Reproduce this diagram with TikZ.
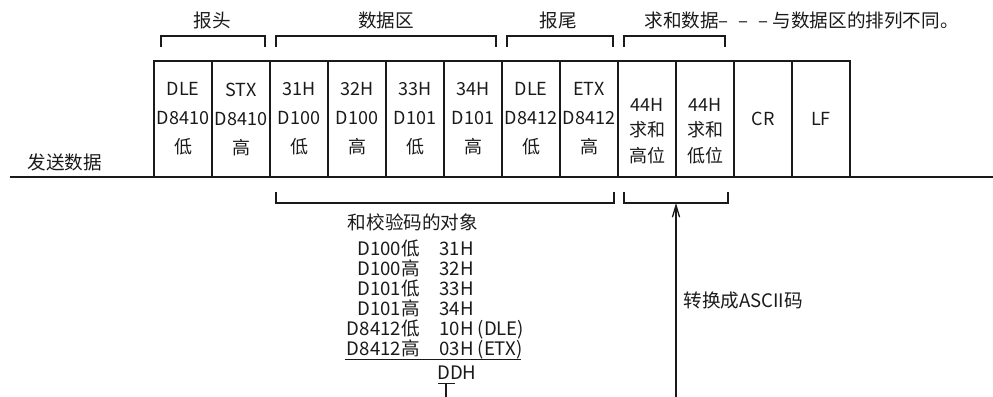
\documentclass[tikz,border=0pt]{standalone}
\usepackage{fontspec}
\setmainfont{Noto Sans CJK SC}
\usetikzlibrary{arrows.meta,positioning,calc}
\definecolor{ink}{HTML}{1A1A1A}
\newcommand\tightlines{\lineskiplimit-20pt\relax}
\tikzset{
  cellbox/.style={draw=ink, line width=0.65pt, minimum width=29pt, minimum height=58pt, inner sep=0pt, outer sep=0pt, align=center, font=\fontsize{9}{14.5}\selectfont, text=ink},
  sumtxt/.style={align=center, inner sep=0pt, font=\fontsize{9}{12.8}\selectfont, text=ink, yshift=-6pt},
  lbl/.style={inner sep=0pt, font=\fontsize{9.3}{11}\selectfont, text=ink},
  listcol/.style={lbl, font=\fontsize{9.3}{10}\selectfont\tightlines},
  brk/.style={draw=ink, line width=0.65pt},
  flow/.style={-{Straight Barb[length=6pt,width=3.6pt]}, line width=0.65pt, draw=ink},
}
\begin{document}
\begin{tikzpicture}[x=0.5pt,y=-0.5pt]
  \useasboundingbox (0,0) rectangle (993,397);
  % the frame
  \node[cellbox,anchor=north west](c1) at (154,61){DLE\\D8410\\低};
  \node[cellbox,right=0pt of c1](c2){STX\\D8410\\高};
  \node[cellbox,right=0pt of c2](c3){31H\\D100\\低};
  \node[cellbox,right=0pt of c3](c4){32H\\D100\\高};
  \node[cellbox,right=0pt of c4](c5){33H\\D101\\低};
  \node[cellbox,right=0pt of c5](c6){34H\\D101\\高};
  \node[cellbox,right=0pt of c6](c7){DLE\\D8412\\低};
  \node[cellbox,right=0pt of c7](c8){ETX\\D8412\\高};
  \node[cellbox,right=0pt of c8,label={[sumtxt]center:{44H\\求和\\高位}}](c9){};
  \node[cellbox,right=0pt of c9,label={[sumtxt]center:{44H\\求和\\低位}}](c10){};
  \node[cellbox,right=0pt of c10](c11){CR};
  \node[cellbox,right=0pt of c11](c12){LF};
  \coordinate(baseL) at (10,177);
  \coordinate(baseR) at (993,177);
  \draw[brk](baseL)--(baseR);
  \node[lbl](send) at (65,162){发送数据};
  % brackets on top
  \draw[brk]($(c1.north west)+(7,-14)$)--++(0,-11)-|($(c2.north east)+(-5,-14)$);
  \draw[brk]($(c3.north west)+(6,-14)$)--++(0,-11)-|($(c6.north east)+(-6,-14)$);
  \draw[brk]($(c7.north west)+(5,-14)$)--++(0,-11)-|($(c8.north east)+(-5,-14)$);
  \draw[brk]($(c9.north west)+(6,-14)$)--++(0,-11)-|($(c10.north east)+(-9,-14)$);
  \node[lbl](hdr) at ($(c1.north east)+(0,-41)$){报头};
  \node[lbl](dat) at ($(c4.north east)+(0,-41)$){数据区};
  \node[lbl](tail) at ($(c7.north east)+(-2,-41)$){报尾};
  \node[lbl,anchor=west](sumnote) at ($(c9.north west)+(26,-41)$){求和数据--\hspace{5pt}--\hspace{5pt}--\hspace{2pt}与数据区的排列不同。};
  % brackets below
  \draw[brk]($(c3.south west)+(6,15)$)--++(0,11)-|($(c8.south east)+(-4,15)$);
  \draw[brk]($(c9.south west)+(6,15)$)--++(0,11)-|($(c10.south east)+(-6,15)$);
  \coordinate(sumtop) at ($(c10.south west)+(0,26)$);
  \coordinate(sumfoot) at ($(c10.south west)+(0,220)$);
  \draw[flow](sumfoot)--(sumtop);
  \node[lbl,anchor=west](ascii) at ($(sumtop)!0.5!(sumfoot)+(7,0)$){转换成ASCII码};
  % checksum
  \node[lbl](obj) at (413,222){和校验码的对象};
  \node[listcol,align=right,anchor=north east](objL) at (420,237){\rule{0pt}{9pt}D100低\\D100高\\D101低\\D101高\\D8412低\\D8412高};
  \node[listcol,align=left,anchor=north west](objR) at (439,237){\rule{0pt}{9pt}31H\\32H\\33H\\34H\\10H (DLE)\\03H (ETX)};
  \draw[brk]($(objL.south west)+(-2,2)$)--($(objR.south east |- objL.south)+(-4,2)$);
  \node[lbl,anchor=west](ddh) at (437,373){DDH};
  \coordinate(ddhtop) at ($(ddh.south west)+(9,3)$);
  \path(ddhtop)++(0,16)coordinate(ddhfoot);
  \draw[brk]($(ddh.south west)+(1,3)$)--++(17,0);
  \draw[brk](ddhtop)--(ddhfoot);
\end{tikzpicture}
\end{document}
